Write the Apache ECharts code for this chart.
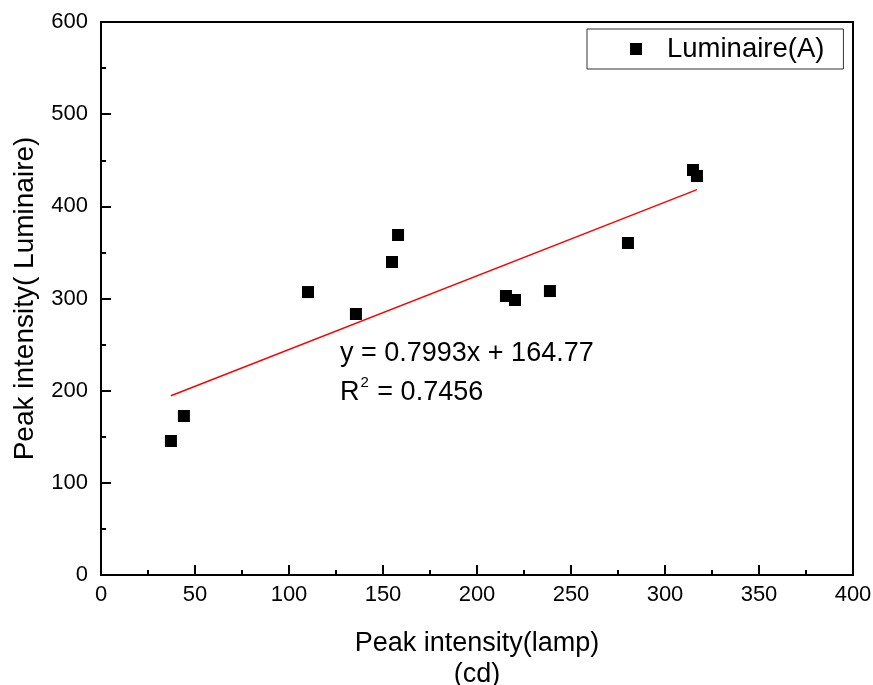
<!DOCTYPE html>
<html>
<head>
<meta charset="utf-8">
<script src="https://cdn.jsdelivr.net/npm/echarts@6/dist/echarts.min.js"></script>
<style>html,body{margin:0;padding:0;background:#fff}#c{width:873px;height:685px}</style>
</head>
<body>
<div id="c"></div>
<script>
// Data
const lampIntensity = [37.2, 44.1, 110.1, 135.6, 154.8, 158.0, 215.4, 220.2, 238.8, 280.3, 314.9, 317.0];
const luminaireIntensity = [145.4, 172.5, 307.0, 283.2, 339.6, 368.9, 302.7, 298.4, 308.1, 360.2, 439.4, 432.9];
const fitSlope = 0.7993;
const fitIntercept = 164.77;
const fitR2 = '0.7456';
const seriesName = 'Luminaire(A)';

const FONT = '"Liberation Sans", Arial, sans-serif';
const points = lampIntensity.map((x, i) => [x, luminaireIntensity[i]]);
const xMin = Math.min(...lampIntensity), xMax = Math.max(...lampIntensity);
const fitLine = [[xMin, fitSlope * xMin + fitIntercept], [xMax, fitSlope * xMax + fitIntercept]];

const chart = echarts.init(document.getElementById('c'), null, {renderer: 'canvas'});
chart.setOption({
  animation: false,
  backgroundColor: '#fff',
  textStyle: {fontFamily: FONT, color: '#000'},
  grid: {left: 101, right: 20, top: 22, bottom: 110, show: true, borderColor: '#000', borderWidth: 2,
         backgroundColor: 'transparent', containLabel: false, outerBoundsMode: 'none'},
  legend: {
    left: 587, top: 29,
    data: [{name: seriesName, icon: 'rect'}],
    itemWidth: 12, itemHeight: 12,
    padding: [6, 19, 6, 43],
    borderColor: '#333', borderWidth: 1, borderRadius: 0,
    textStyle: {fontSize: 27.5, fontFamily: FONT, color: '#000', padding: [0, 0, 0, 20]},
    itemStyle: {color: '#000', opacity: 1}
  },
  xAxis: {
    type: 'value', min: 0, max: 400, interval: 50,
    name: 'Peak intensity(lamp)\n(cd)', nameLocation: 'middle', nameGap: 53,
    nameTextStyle: {fontSize: 27, fontFamily: FONT, color: '#000', lineHeight: 31},
    axisLine: {show: true, onZero: false, lineStyle: {color: '#000', width: 2}},
    axisTick: {show: true, inside: true, length: 10, lineStyle: {color: '#000', width: 2}},
    minorTick: {show: true, splitNumber: 2, length: 5, lineStyle: {color: '#000', width: 2}},
    axisLabel: {fontSize: 22, color: '#000', margin: 9, fontFamily: FONT},
    splitLine: {show: false}
  },
  yAxis: {
    type: 'value', min: 0, max: 600, interval: 100,
    name: 'Peak intensity( Luminaire)', nameLocation: 'middle', nameGap: 62,
    nameTextStyle: {fontSize: 28, fontFamily: FONT, color: '#000'},
    axisLine: {show: true, onZero: false, lineStyle: {color: '#000', width: 2}},
    axisTick: {show: true, inside: true, length: 10, lineStyle: {color: '#000', width: 2}},
    minorTick: {show: true, splitNumber: 2, length: 5, lineStyle: {color: '#000', width: 2}},
    axisLabel: {fontSize: 22, color: '#000', margin: 13, fontFamily: FONT},
    splitLine: {show: false}
  },
  series: [
    {
      name: 'fit', type: 'line', data: fitLine, symbol: 'none',
      lineStyle: {color: '#ff0000', width: 1.5}, silent: true, z: 1
    },
    {
      name: seriesName, type: 'scatter', data: points, symbol: 'rect', symbolSize: 12,
      itemStyle: {color: '#000', opacity: 1}, z: 3
    }
  ],
  graphic: [
    {type: 'text', left: 340, top: 340, style: {text: 'y = ' + fitSlope + 'x + ' + fitIntercept, fontSize: 27, fontFamily: FONT, fill: '#000'}},
    {type: 'text', left: 340, top: 375, style: {
      text: '{n|R}{s|2}{n| = ' + fitR2 + '}',
      rich: {
        n: {fontSize: 27, fontFamily: FONT, fill: '#000', lineHeight: 31, verticalAlign: 'bottom'},
        s: {fontSize: 15, fontFamily: FONT, fill: '#000', lineHeight: 31, verticalAlign: 'top', padding: [0, 1, 0, 1]}
      }
    }}
  ]
});
</script>
</body>
</html>
